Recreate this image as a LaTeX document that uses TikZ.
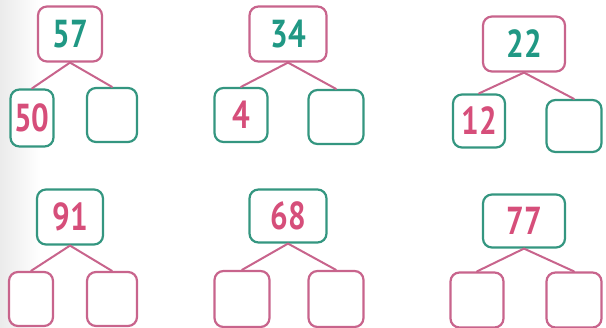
\documentclass[tikz,border=0pt]{standalone}
\usepackage{fontspec}
\setmainfont{PT Sans}[FakeStretch=0.8]
\definecolor{rosa}{RGB}{200,100,140}
\definecolor{rosatext}{RGB}{214,78,122}
\definecolor{verde}{RGB}{52,150,128}
\definecolor{verdetext}{RGB}{32,152,132}
\usetikzlibrary{positioning, calc}

\begin{document}
\begin{tikzpicture}[
	x=1pt, y=-1pt,
	% --- Styles ---
	numbox/.style={
		rectangle, draw, rounded corners=9pt, line width=2.2pt, fill=white,
		inner sep=0pt, align=center, font=\fontsize{39}{39}\selectfont\bfseries
	},
	topbox/.style={numbox, minimum width=64pt, minimum height=55pt},
	partbox/.style={numbox, minimum width=50pt, minimum height=54pt},
	pinkbox/.style={draw=rosa, text=verdetext},
	greenbox/.style={draw=verde, text=rosatext},
	branch/.style={draw, line width=2pt, line cap=round}
	]
	
	% --- Frame and grey fade on the left ---
	\useasboundingbox (0,0) rectangle (606,328);
	\shade[left color=black!8, right color=white] (0,0) rectangle (40,328);
	
	% --- 1. Top row ---
	\node [topbox, pinkbox] (top57) at (70,34) {57};
	\node [partbox, greenbox, minimum width=43pt, minimum height=57pt] (left50) at (32,118) {50};
	\node [partbox, greenbox] (right57) at (112,115) {};
	\draw [branch, rosa] (top57.south) -- (left50.north);
	\draw [branch, rosa] (top57.south) -- (right57.north);
	
	\node [topbox, pinkbox, minimum width=77pt] (top34) at (288,34) {34};
	\node [partbox, greenbox, minimum width=53pt] (left4) at (241,115) {4};
	\node [partbox, greenbox, minimum width=55pt] (right34) at (336,117) {};
	\draw [branch, rosa] (top34.south) -- (left4.north);
	\draw [branch, rosa] (top34.south) -- (right34.north);
	
	\node [topbox, pinkbox, minimum width=82pt] (top22) at (524,44) {22};
	\node [partbox, greenbox, minimum width=52pt, minimum height=53pt] (left12) at (479,121) {12};
	\node [partbox, greenbox, minimum width=55pt, minimum height=52pt] (right22) at (574,126) {};
	\draw [branch, rosa] (top22.south) -- (left12.north);
	\draw [branch, rosa] (top22.south) -- (right22.north);
	
	% --- 2. Bottom row ---
	\node [topbox, greenbox, minimum width=66pt] (top91) at (70,217) {91};
	\node [partbox, pinkbox, minimum width=44pt] (left91) at (31,299) {};
	\node [partbox, pinkbox] (right91) at (112,299) {};
	\draw [branch, rosa] (top91.south) -- (left91.north);
	\draw [branch, rosa] (top91.south) -- (right91.north);
	
	\node [topbox, greenbox, minimum width=77pt, minimum height=53pt] (top68) at (288,216) {68};
	\node [partbox, pinkbox, minimum width=55pt, minimum height=56pt] (left68) at (242,299) {};
	\node [partbox, pinkbox, minimum width=55pt, minimum height=56pt] (right68) at (336,299) {};
	\draw [branch, rosa] (top68.south) -- (left68.north);
	\draw [branch, rosa] (top68.south) -- (right68.north);
	
	\node [topbox, greenbox, minimum width=82pt, minimum height=53pt] (top77) at (524,221) {77};
	\node [partbox, pinkbox, minimum width=53pt, minimum height=55pt] (left77) at (477,300) {};
	\node [partbox, pinkbox, minimum width=55pt, minimum height=55pt] (right77) at (574,300) {};
	\draw [branch, rosa] (top77.south) -- (left77.north);
	\draw [branch, rosa] (top77.south) -- (right77.north);
	
\end{tikzpicture}
\end{document}
